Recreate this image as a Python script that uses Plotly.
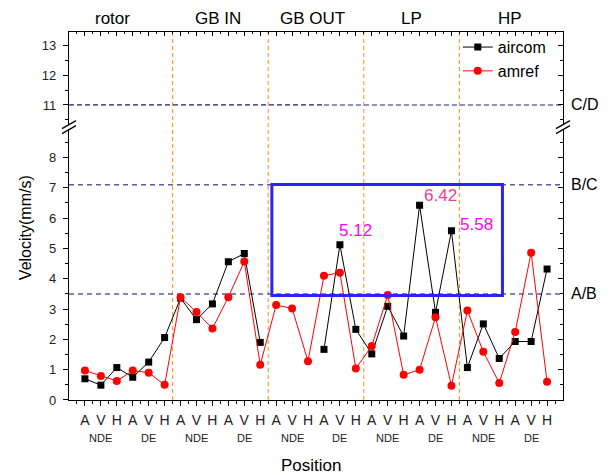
import plotly.graph_objects as go

# ---------------- data ----------------
positions = list(range(1, 31))
tick_text = ["A", "V", "H"] * 10
sub_labels = ["NDE", "DE"] * 5
sub_label_pos = [2, 5, 8, 11, 14, 17, 20, 23, 26, 29]
groups = ["rotor", "GB IN", "GB OUT", "LP", "HP"]
group_pos = [2.75, 9.36, 15.28, 21.5, 27.7]
group_bounds = [6.5, 12.5, 18.5, 24.5]

aircom = [0.70, 0.49, 1.07, 0.75, 1.25, 2.06,
          3.36, 2.65, 3.17, 4.56, 4.83, 1.90,
          None, None, None, 1.67, 5.12, 2.33,
          1.52, 3.09, 2.11, 6.42, 2.89, 5.58,
          1.07, 2.51, 1.37, 1.93, 1.93, 4.32]
amref = [0.97, 0.79, 0.63, 0.97, 0.90, 0.50,
         3.39, 2.90, 2.36, 3.39, 4.57, 1.16,
         3.13, 3.02, 1.28, 4.10, 4.20, 1.04,
         1.78, 3.46, 0.83, 1.00, 2.73, 0.47,
         2.95, 1.59, 0.56, 2.24, 4.86, 0.60]

zone_names = ["A/B", "B/C", "C/D"]
zone_values = [3.5, 7.1, 11.0]

callouts = ["5.12", "6.42", "5.58"]
callout_x = [18.0, 23.3, 25.6]
callout_y = [5.59, 6.75, 5.78]
callout_colors = ["#ff00ff", "#f03c9b", "#ff00ff"]

box_x = [12.73, 27.2]
box_y = [3.45, 7.11]

lower_range = [0, 9.0]
upper_range = [10.25, 13.47]
split = 0.7415

FONT = "Arial, Liberation Sans, sans-serif"

fig = go.Figure()
fig.add_trace(go.Scatter(x=positions, y=aircom, name="aircom", mode="lines+markers",
                         line=dict(color="black", width=1),
                         marker=dict(symbol="square", size=7, color="black"),
                         connectgaps=False, xaxis="x", yaxis="y"))
fig.add_trace(go.Scatter(x=positions, y=amref, name="amref", mode="lines+markers",
                         line=dict(color="red", width=1),
                         marker=dict(symbol="circle", size=8, color="red"),
                         xaxis="x", yaxis="y"))
# empty traces to create the upper panel and right-hand inward tick axes
fig.add_trace(go.Scatter(x=[], y=[], xaxis="x2", yaxis="y2", showlegend=False))
fig.add_trace(go.Scatter(x=[], y=[], xaxis="x", yaxis="y3", showlegend=False))
fig.add_trace(go.Scatter(x=[], y=[], xaxis="x2", yaxis="y4", showlegend=False))

xr = [0, 31]
half = [p + 0.5 for p in range(0, 31)]
lower_major = list(range(0, 9))
lower_minor = [v + 0.5 for v in range(0, 9)]
upper_major = [11, 12, 13]
upper_minor = [10.5, 11.5, 12.5]

axis_common = dict(showline=True, linecolor="black", linewidth=1.2, showgrid=False,
                   zeroline=False, tickcolor="black",
                   tickfont=dict(family=FONT, size=14, color="#222"))

fig.update_layout(
    width=613, height=475,
    margin=dict(l=69, r=50, t=32, b=75),
    paper_bgcolor="white", plot_bgcolor="white",
    font=dict(family=FONT, color="black"),
    showlegend=True,
    legend=dict(x=0.787, y=1.005, xanchor="left", yanchor="top",
                bgcolor="rgba(0,0,0,0)", font=dict(family=FONT, size=16),
                tracegroupgap=0, itemwidth=30),
    xaxis=dict(axis_common, range=xr, domain=[0, 1], anchor="y",
               tickmode="array", tickvals=positions, ticktext=tick_text,
               ticks="outside", ticklen=5, mirror=False, ticklabelstandoff=2,
               minor=dict(tickvals=half, ticks="outside", ticklen=3, tickcolor="black")),
    xaxis2=dict(axis_common, range=xr, domain=[0, 1], anchor="y2", side="top",
                matches="x", tickmode="array", tickvals=positions,
                showticklabels=False, ticks="inside", ticklen=4,
                minor=dict(tickvals=half, ticks="inside", ticklen=2, tickcolor="black")),
    yaxis=dict(axis_common, range=lower_range, domain=[0, split], anchor="x",
               tickmode="array", tickvals=lower_major, ticks="outside", ticklen=5,
               ticklabelstandoff=4,
               tickfont=dict(family=FONT, size=13, color="#222"),
               minor=dict(tickvals=lower_minor, ticks="outside", ticklen=3, tickcolor="black")),
    yaxis2=dict(axis_common, range=upper_range, domain=[split, 1], anchor="x2",
                tickmode="array", tickvals=upper_major, ticks="outside", ticklen=5,
                ticklabelstandoff=4,
                tickfont=dict(family=FONT, size=13, color="#222"),
                minor=dict(tickvals=upper_minor, ticks="outside", ticklen=3, tickcolor="black")),
    yaxis3=dict(axis_common, range=lower_range, overlaying="y", side="right", anchor="x",
                tickmode="array", tickvals=lower_major, ticks="inside", ticklen=5,
                showticklabels=False,
                minor=dict(tickvals=lower_minor, ticks="inside", ticklen=3, tickcolor="black")),
    yaxis4=dict(axis_common, range=upper_range, overlaying="y2", side="right", anchor="x2",
                tickmode="array", tickvals=upper_major, ticks="inside", ticklen=5,
                showticklabels=False,
                minor=dict(tickvals=upper_minor, ticks="inside", ticklen=3, tickcolor="black")),
)

shapes = []
# group boundaries
for b in group_bounds:
    shapes.append(dict(type="line", xref="x", yref="paper", x0=b, x1=b, y0=0, y1=1,
                       line=dict(color="#ff8c1a", width=1, dash="4px,3px"), layer="below"))
# zone lines
for name, v in zip(zone_names, zone_values):
    yref = "y" if v < lower_range[1] else "y2"
    if name == "C/D":
        shapes.append(dict(type="line", xref="x", yref=yref, x0=xr[0], x1=16, y0=v, y1=v,
                           line=dict(color="#1c1c7a", width=1.2, dash="5px,3px"), layer="below"))
        shapes.append(dict(type="line", xref="x", yref=yref, x0=16, x1=xr[1], y0=v, y1=v,
                           line=dict(color="#6a6ab8", width=1.5, dash="5px,3px"), layer="below"))
    else:
        shapes.append(dict(type="line", xref="x", yref=yref, x0=xr[0], x1=xr[1], y0=v, y1=v,
                           line=dict(color="#5a5aaa", width=1.5, dash="5px,4px"), layer="below"))
# highlight box
shapes.append(dict(type="rect", xref="x", yref="y", x0=box_x[0], x1=box_x[1],
                   y0=box_y[0], y1=box_y[1], line=dict(color="#2a22ff", width=3),
                   fillcolor="rgba(0,0,0,0)", layer="above"))
# axis break marks
for xa in [0, 1]:
    shapes.append(dict(type="rect", xref="paper", yref="paper", xsizemode="pixel",
                       ysizemode="pixel", xanchor=xa, yanchor=split,
                       x0=-2, x1=2, y0=-2, y1=2, fillcolor="white",
                       line=dict(width=0), layer="above"))
    for dy in [-2.5, 2.5]:
        shapes.append(dict(type="line", xref="paper", yref="paper", xsizemode="pixel",
                           ysizemode="pixel", xanchor=xa, yanchor=split,
                           x0=-7, x1=7, y0=dy - 4, y1=dy + 4,
                           line=dict(color="black", width=1.2), layer="above"))
fig.update_layout(shapes=shapes)

ann = []
for g, gx in zip(groups, group_pos):
    ann.append(dict(text=g, x=gx, xref="x", y=1, yref="paper", yshift=14,
                    yanchor="middle", showarrow=False, font=dict(size=17, family=FONT)))
for s, sx in zip(sub_labels, sub_label_pos):
    ann.append(dict(text=s, x=sx, xref="x", y=0, yref="paper", yshift=-38,
                    yanchor="middle", showarrow=False, font=dict(size=11, family=FONT, color="#222")))
for name, v in zip(zone_names, zone_values):
    yref = "y" if v < lower_range[1] else "y2"
    ann.append(dict(text=name, x=1, xref="paper", xanchor="left", xshift=6,
                    y=v, yref=yref, yanchor="middle", showarrow=False,
                    font=dict(size=16, family=FONT)))
for t, cx, cy, cc in zip(callouts, callout_x, callout_y, callout_colors):
    ann.append(dict(text=t, x=cx, y=cy, xref="x", yref="y", showarrow=False,
                    font=dict(size=17, family=FONT, color=cc)))
ann.append(dict(text="Velocity(mm/s)", x=0, xref="paper", xshift=-44, xanchor="center",
                y=0.467, yref="paper", yanchor="middle", textangle=-90, showarrow=False,
                font=dict(size=16, family=FONT)))
ann.append(dict(text="Position", x=0.49, xref="paper", y=0, yref="paper", yshift=-65,
                yanchor="middle", showarrow=False, font=dict(size=17, family=FONT)))
fig.update_layout(annotations=ann)

fig.write_html("out.html", config={"displayModeBar": False},
               post_script="document.body.style.margin='0';document.body.style.padding='0';")
